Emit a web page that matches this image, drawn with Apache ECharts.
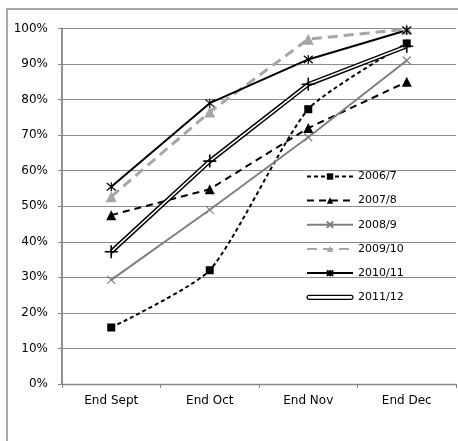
<!DOCTYPE html>
<html>
<head>
<meta charset="utf-8">
<script src="https://cdn.jsdelivr.net/npm/echarts@6/dist/echarts.min.js"></script>
<style>html,body{margin:0;padding:0;background:#fff;overflow:hidden;}#c{width:458px;height:441px;}</style>
</head>
<body>
<div id="c"></div>
<script>
const categories = ['End Sept', 'End Oct', 'End Nov', 'End Dec'];
const yTicks = [0, 10, 20, 30, 40, 50, 60, 70, 80, 90, 100];
const s2006 = [15.9, 32, 77.3, 95.8];
const s2007 = [47.5, 54.8, 72, 85];
const s2008 = [29.3, 49, 69.4, 91];
const s2009 = [52.7, 76.5, 97, 99.8];
const s2010 = [55.5, 79, 91.3, 99.5];
const s2011 = [37.2, 62.7, 84.3, 95];
const seriesNames = ['2006/7', '2007/8', '2008/9', '2009/10', '2010/11', '2011/12'];

const XPATH = 'path://M0,0L10,10M10,0L0,10';
const STAR = 'path://M0,0L10,10M10,0L0,10M5,-1L5,11';
const PLUS = 'path://M5,0L5,10M0,5L10,5';
const CAPSULE = 'path://M2,0L44,0A2,2,0,0,1,44,4L2,4A2,2,0,0,1,2,0Z';

const chart = echarts.init(document.getElementById('c'));
chart.setOption({
  animation: false,
  backgroundColor: '#fff',
  textStyle: { fontFamily: 'DejaVu Sans' },
  graphic: [{
    type: 'rect', silent: true, z: -10,
    shape: { x: 7, y: 9, width: 470, height: 450 },
    style: { fill: 'none', stroke: '#8a8a8a', lineWidth: 1.5 }
  }],
  grid: { left: 62, top: 28.5, right: 2, bottom: 57, containLabel: false },
  legend: {
    data: seriesNames.slice(0, 5).concat([{
      name: seriesNames[5], icon: CAPSULE,
      itemStyle: { color: '#fff', borderColor: '#000', borderWidth: 1.2 }
    }]),
    orient: 'vertical',
    left: 301, top: 166,
    itemWidth: 46, itemHeight: 8, itemGap: 13,
    textStyle: { fontSize: 11, color: '#000', fontFamily: 'DejaVu Sans' }
  },
  xAxis: {
    type: 'category', data: categories, boundaryGap: true,
    axisLine: { lineStyle: { color: '#868686', width: 1.3 } },
    axisTick: { show: true, length: 4, lineStyle: { color: '#868686' } },
    axisLabel: { fontSize: 12, color: '#000', margin: 11, fontFamily: 'DejaVu Sans' }
  },
  yAxis: {
    type: 'value', min: yTicks[0], max: yTicks[yTicks.length - 1], interval: 10,
    axisLine: { show: true, lineStyle: { color: '#868686', width: 1.8 } },
    axisTick: { show: true, length: 4, lineStyle: { color: '#868686' } },
    axisLabel: { fontSize: 12, color: '#000', margin: 14, formatter: v => v + '%', fontFamily: 'DejaVu Sans' },
    splitLine: { lineStyle: { color: '#8c8c8c', width: 1 } }
  },
  series: [
    { name: '2006/7', type: 'line', data: s2006, smooth: 0.2,
      symbol: 'rect', symbolSize: 8,
      itemStyle: { color: '#000' },
      lineStyle: { color: '#000', width: 2, type: [4, 3] } },
    { name: '2007/8', type: 'line', data: s2007,
      symbol: 'triangle', symbolSize: 10,
      itemStyle: { color: '#000' },
      lineStyle: { color: '#000', width: 2, type: [7, 5] } },
    { name: '2008/9', type: 'line', data: s2008,
      symbol: XPATH, symbolSize: 8,
      itemStyle: { color: 'none', borderColor: '#808080', borderWidth: 1.2 },
      lineStyle: { color: '#808080', width: 2 } },
    { name: '2009/10', type: 'line', data: s2009,
      symbol: 'triangle', symbolSize: 11,
      itemStyle: { color: '#a6a6a6' },
      lineStyle: { color: '#a6a6a6', width: 3, type: [10, 6] } },
    { name: '2010/11', type: 'line', data: s2010,
      symbol: STAR, symbolSize: 9,
      itemStyle: { color: 'none', borderColor: '#000', borderWidth: 1.2 },
      lineStyle: { color: '#000', width: 2 } },
    { name: '2011/12', type: 'line', data: s2011,
      symbol: 'none',
      itemStyle: { color: '#000' },
      lineStyle: { color: '#000', width: 4.5 } },
    { name: '2011/12', type: 'line', data: s2011,
      symbol: PLUS, symbolSize: 13,
      itemStyle: { color: 'none', borderColor: '#000', borderWidth: 1.6 },
      lineStyle: { color: '#fff', width: 1.6 } }
  ]
});
</script>
</body>
</html>
